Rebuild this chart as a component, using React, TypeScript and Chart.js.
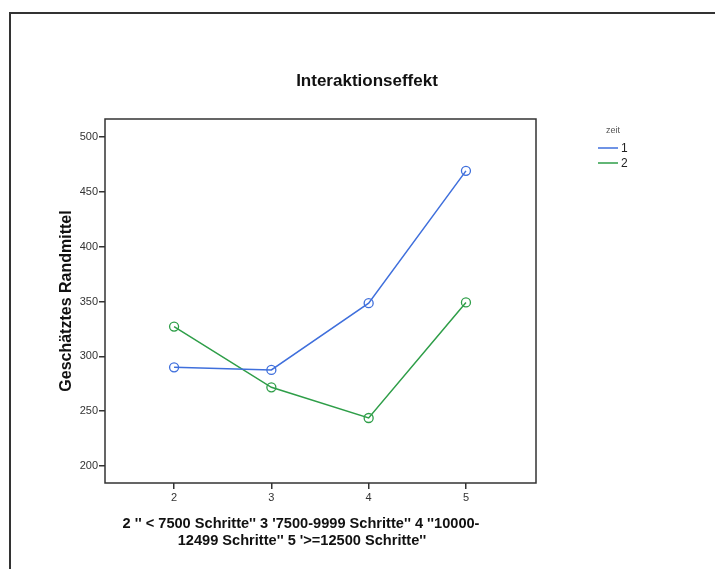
import React, { useEffect, useRef } from "react";
import { Chart, registerables } from "chart.js";

Chart.register(...registerables);

const categories = [2, 3, 4, 5];
const zeit1 = [290, 287.6, 348.5, 469.2];
const zeit2 = [327.2, 271.8, 243.8, 349.2];
const yTickValues = [200, 250, 300, 350, 400, 450, 500];
const seriesLabels = ["1", "2"];
const chartTitle = "Interaktionseffekt";
const yTitle = "Geschätztes Randmittel";
const xTitleLines = [
  "2 '' < 7500 Schritte'' 3 '7500-9999 Schritte'' 4 ''10000-",
  "12499 Schritte'' 5 '>=12500 Schritte''",
];
const legendTitle = "zeit";

const BLUE = "#3f6fdc";
const GREEN = "#2e9e48";
const FONT = "'Liberation Sans', Arial, sans-serif";

export default function App() {
  const ref = useRef<HTMLCanvasElement | null>(null);
  useEffect(() => {
    if (!ref.current) return;
    const decor = {
      id: "decor",
      beforeDraw(chart: any) {
        const ctx = chart.ctx;
        ctx.save();
        ctx.fillStyle = "#ffffff";
        ctx.fillRect(0, 0, chart.width, chart.height);
        // outer frame
        ctx.strokeStyle = "#333";
        ctx.lineWidth = 2;
        ctx.beginPath();
        ctx.moveTo(10, 600);
        ctx.lineTo(10, 13);
        ctx.lineTo(720, 13);
        ctx.stroke();
        ctx.restore();
      },
      afterDraw(chart: any) {
        const ctx = chart.ctx;
        const a = chart.chartArea;
        ctx.save();
        // plot box
        ctx.strokeStyle = "#333";
        ctx.lineWidth = 1.5;
        ctx.strokeRect(a.left, a.top, a.right - a.left, a.bottom - a.top);
        // title
        ctx.fillStyle = "#111";
        ctx.textAlign = "center";
        ctx.textBaseline = "middle";
        ctx.font = `bold 17px ${FONT}`;
        ctx.fillText(chartTitle, 367, 81);
        // x title
        ctx.font = `bold 14.6px ${FONT}`;
        ctx.fillText(xTitleLines[0], 301, 524);
        ctx.fillText(xTitleLines[1], 302, 541);
        // y title
        ctx.save();
        ctx.translate(67, 301);
        ctx.rotate(-Math.PI / 2);
        ctx.font = `bold 16px ${FONT}`;
        ctx.fillText(yTitle, 0, 0);
        ctx.restore();
        // legend
        ctx.font = `9px ${FONT}`;
        ctx.fillStyle = "#555";
        ctx.textAlign = "left";
        ctx.fillText(legendTitle, 606, 131);
        const cols = [BLUE, GREEN];
        const ys = [148, 163];
        ctx.font = `12px ${FONT}`;
        ctx.fillStyle = "#222";
        for (let i = 0; i < 2; i++) {
          ctx.strokeStyle = cols[i];
          ctx.lineWidth = 1.5;
          ctx.beginPath();
          ctx.moveTo(598, ys[i]);
          ctx.lineTo(618, ys[i]);
          ctx.stroke();
          ctx.fillText(seriesLabels[i], 621, ys[i] + 1);
        }
        ctx.restore();
      },
    };
    const chart = new Chart(ref.current, {
      type: "line",
      data: {
        datasets: [
          {
            label: seriesLabels[0],
            data: categories.map((c, i) => ({ x: c, y: zeit1[i] })),
            borderColor: BLUE,
            backgroundColor: "transparent",
            borderWidth: 1.5,
            pointRadius: 4.5,
            pointBorderWidth: 1.3,
            pointBackgroundColor: "transparent",
            pointBorderColor: BLUE,
          },
          {
            label: seriesLabels[1],
            data: categories.map((c, i) => ({ x: c, y: zeit2[i] })),
            borderColor: GREEN,
            backgroundColor: "transparent",
            borderWidth: 1.5,
            pointRadius: 4.5,
            pointBorderWidth: 1.3,
            pointBackgroundColor: "transparent",
            pointBorderColor: GREEN,
          },
        ],
      },
      options: {
        responsive: false,
        animation: false,
        layout: { padding: { left: 0, top: 119, right: 179, bottom: 0 } },
        plugins: { legend: { display: false }, title: { display: false }, tooltip: { enabled: false } },
        scales: {
          x: {
            type: "linear",
            min: 1.29,
            max: 5.72,
            afterBuildTicks: (s: any) => {
              s.ticks = categories.map((v) => ({ value: v }));
            },
            afterFit: (s: any) => {
              s.height = 86;
            },
            grid: { display: true, drawOnChartArea: false, drawTicks: true, tickLength: 6, color: "#333", lineWidth: 1.5 },
            border: { display: false },
            ticks: { color: "#333", font: { family: FONT, size: 11 }, padding: 2, maxRotation: 0 },
          },
          y: {
            type: "linear",
            min: 184.5,
            max: 516.5,
            afterBuildTicks: (s: any) => {
              s.ticks = yTickValues.map((v) => ({ value: v }));
            },
            afterFit: (s: any) => {
              s.width = 105;
            },
            grid: { display: true, drawOnChartArea: false, drawTicks: true, tickLength: 6, color: "#333", lineWidth: 1.5 },
            border: { display: false },
            ticks: { color: "#333", font: { family: FONT, size: 11 }, padding: 1 },
          },
        },
      },
      plugins: [decor],
    } as any);
    return () => chart.destroy();
  }, []);
  return (
    <div style={{ position: "fixed", left: 0, top: 0, width: 715, height: 569 }}>
      <canvas ref={ref} width={715} height={569} style={{ display: "block" }} />
    </div>
  );
}
